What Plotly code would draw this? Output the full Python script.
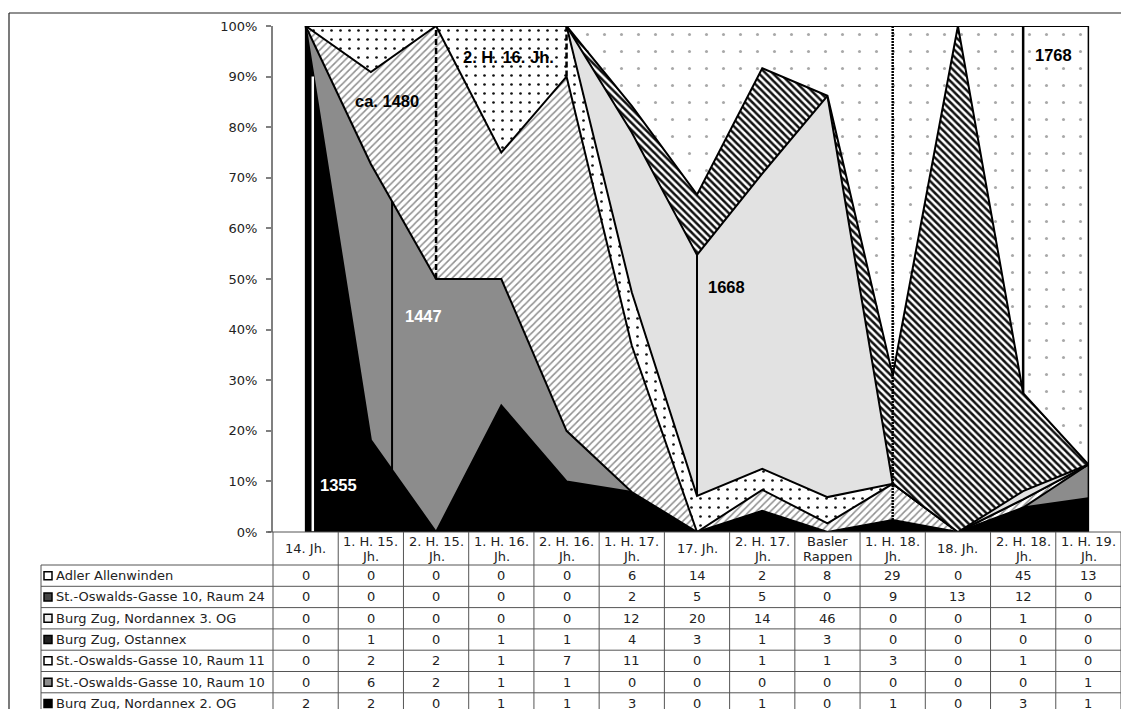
import plotly.graph_objects as go

# ---------------- data ----------------
categories = ["14. Jh.", "1. H. 15. Jh.", "2. H. 15. Jh.", "1. H. 16. Jh.", "2. H. 16. Jh.",
              "1. H. 17. Jh.", "17. Jh.", "2. H. 17. Jh.", "Basler Rappen", "1. H. 18. Jh.",
              "18. Jh.", "2. H. 18. Jh.", "1. H. 19. Jh."]
category_lines = [["14. Jh."], ["1. H. 15.", "Jh."], ["2. H. 15.", "Jh."], ["1. H. 16.", "Jh."],
                  ["2. H. 16.", "Jh."], ["1. H. 17.", "Jh."], ["17. Jh."], ["2. H. 17.", "Jh."],
                  ["Basler", "Rappen"], ["1. H. 18.", "Jh."], ["18. Jh."], ["2. H. 18.", "Jh."],
                  ["1. H. 19.", "Jh."]]

adler_allenwinden = [0, 0, 0, 0, 0, 6, 14, 2, 8, 29, 0, 45, 13]
oswald_raum24     = [0, 0, 0, 0, 0, 2, 5, 5, 0, 9, 13, 12, 0]
nordannex_3og     = [0, 0, 0, 0, 0, 12, 20, 14, 46, 0, 0, 1, 0]
ostannex          = [0, 1, 0, 1, 1, 4, 3, 1, 3, 0, 0, 0, 0]
oswald_raum11     = [0, 2, 2, 1, 7, 11, 0, 1, 1, 3, 0, 1, 0]
oswald_raum10     = [0, 6, 2, 1, 1, 0, 0, 0, 0, 0, 0, 0, 1]
nordannex_2og     = [2, 2, 0, 1, 1, 3, 0, 1, 0, 1, 0, 3, 1]

series_names = ["Adler Allenwinden", "St.-Oswalds-Gasse 10, Raum 24", "Burg Zug, Nordannex 3. OG",
                "Burg Zug, Ostannex", "St.-Oswalds-Gasse 10, Raum 11", "St.-Oswalds-Gasse 10, Raum 10",
                "Burg Zug, Nordannex 2. OG"]
series_values = [adler_allenwinden, oswald_raum24, nordannex_3og, ostannex,
                 oswald_raum11, oswald_raum10, nordannex_2og]

# date markers drawn as labels in the chart
marker_labels = ["1355", "1447", "ca. 1480", "2. H. 16. Jh.", "1668", "", "1768"]

# ---------------- layout geometry ----------------
W, H = 1121, 709
L, R, T, B = 273, 0, 26, 177
PW, PH = W - L - R, H - T - B


def px(xp):
    return (xp - L) / PW


def py(yp):
    return (H - B - yp) / PH


n = len(categories)
xs = list(range(n))
colw = PW / n

# stacking bottom -> top
stack_order = list(reversed(range(len(series_names))))
styles = {
    "Burg Zug, Nordannex 2. OG": dict(fillcolor="black"),
    "St.-Oswalds-Gasse 10, Raum 10": dict(fillcolor="#8c8c8c"),
    "St.-Oswalds-Gasse 10, Raum 11": dict(fillcolor="white",
                                           fillpattern=dict(shape="/", bgcolor="white", fgcolor="#8f8f8f",
                                                            size=5, solidity=0.3, fillmode="replace")),
    "Burg Zug, Ostannex": dict(fillcolor="white",
                                fillpattern=dict(shape=".", bgcolor="white", fgcolor="#111111",
                                                 size=9, solidity=0.07, fillmode="replace")),
    "Burg Zug, Nordannex 3. OG": dict(fillcolor="#e2e2e2"),
    "St.-Oswalds-Gasse 10, Raum 24": dict(fillcolor="white",
                                           fillpattern=dict(shape="\\", bgcolor="white", fgcolor="#111111",
                                                            size=5, solidity=0.5, fillmode="replace")),
    "Adler Allenwinden": dict(fillcolor="white",
                               fillpattern=dict(shape=".", bgcolor="white", fgcolor="#a8a8a8",
                                                size=17, solidity=0.025, fillmode="replace")),
}

fig = go.Figure()
for k, si in enumerate(stack_order):
    name = series_names[si]
    fig.add_trace(go.Scatter(
        x=xs, y=series_values[si], name=name, stackgroup="one",
        groupnorm="percent" if k == 0 else None,
        mode="lines", line=dict(color="black", width=2, shape="linear"),
        hoverinfo="skip", showlegend=False, **styles[name]))

# cumulative percentage of the lowest `level` stacked series at (fractional) category x
totals = [sum(s[i] for s in series_values) for i in range(n)]


def level_pct_at(i, level):
    return 100.0 * sum(series_values[si][i] for si in stack_order[:level]) / totals[i]


def level_pct(x, level):
    i0 = int(x)
    if i0 >= n - 1:
        return level_pct_at(n - 1, level)
    f = x - i0
    return (1 - f) * level_pct_at(i0, level) + f * level_pct_at(i0 + 1, level)


shapes = []
# date markers
markers = [
    dict(x=0.11, y0=0, y1=90, color="white", dash="solid", width=2.5),
    dict(x=1.325, lv=(1, 2), color="black", dash="solid", width=2),
    dict(x=2, lv=(2, 7), color="black", dash="6px,3px", width=2.5),
    dict(x=4, lv=(3, 7), color="black", dash="6px,3px", width=2.5),
    dict(x=6, lv=(4, 5), color="black", dash="solid", width=2),
    dict(x=9, lv=(0, 7), color="black", dash="2px,1px", width=2.5),
    dict(x=11, lv=(6, 7), color="black", dash="solid", width=2.5),
]
for m in markers:
    if "lv" in m:
        y0, y1 = level_pct(m["x"], m["lv"][0]), level_pct(m["x"], m["lv"][1])
    else:
        y0, y1 = m["y0"], m["y1"]
    shapes.append(dict(type="line", xref="x", yref="y", x0=m["x"], x1=m["x"], y0=y0, y1=y1,
                       line=dict(color=m["color"], width=m["width"], dash=m["dash"]), layer="above"))

# plot area frame
shapes.append(dict(type="rect", xref="x", yref="y", x0=0, x1=n - 1, y0=0, y1=100,
                   line=dict(color="black", width=1.5), layer="above"))

# outer chart border (top and left)
shapes.append(dict(type="line", xref="paper", yref="paper", x0=px(9), x1=px(W + 5), y0=py(13), y1=py(13),
                   line=dict(color="#222", width=1.2)))
shapes.append(dict(type="line", xref="paper", yref="paper", x0=px(9), x1=px(9), y0=py(13), y1=py(H + 5),
                   line=dict(color="#222", width=1.2)))

# ---------------- data table ----------------
grid = dict(color="#555", width=1)
header_top, header_bot = 532, 565
row_h = 21.3
nrows = len(series_names)
table_left = 41
# horizontal lines
shapes.append(dict(type="line", xref="paper", yref="paper", x0=px(268), x1=px(W), y0=py(header_top),
                   y1=py(header_top), line=grid))
for r in range(nrows + 1):
    yy = header_bot + r * row_h
    shapes.append(dict(type="line", xref="paper", yref="paper", x0=px(table_left), x1=px(W),
                       y0=py(yy), y1=py(yy), line=grid))
# vertical lines
shapes.append(dict(type="line", xref="paper", yref="paper", x0=px(table_left), x1=px(table_left),
                   y0=py(header_bot), y1=py(H + 5), line=grid))
for c in range(n + 1):
    xx = L + c * colw
    shapes.append(dict(type="line", xref="paper", yref="paper", x0=px(xx), x1=px(xx),
                       y0=py(header_top), y1=py(H + 5), line=grid))

annotations = []
tfont = dict(family="DejaVu Sans", size=13, color="#222")
for i, lines in enumerate(category_lines):
    if len(lines) == 1:
        annotations.append(dict(x=i, xref="x", y=py(548.5), yref="paper", text=lines[0], showarrow=False,
                                font=tfont, xanchor="center", yanchor="middle"))
    else:
        for j, ln in enumerate(lines):
            annotations.append(dict(x=i, xref="x", y=py(541.5 + 15 * j), yref="paper", text=ln,
                                    showarrow=False, font=tfont, xanchor="center", yanchor="middle"))

key_fill = ["white", "#444", "#eeeeee", "#222", "white", "#8c8c8c", "black"]
for r, name in enumerate(series_names):
    yc = header_bot + (r + 0.5) * row_h
    annotations.append(dict(x=px(54), xref="paper", y=py(yc), yref="paper", text=name, showarrow=False,
                            font=tfont, xanchor="left", yanchor="middle"))
    shapes.append(dict(type="rect", xref="paper", yref="paper", x0=px(44), x1=px(52), y0=py(yc - 4),
                       y1=py(yc + 4), fillcolor=key_fill[r], line=dict(color="black", width=1.5)))
    for i, v in enumerate(series_values[r]):
        annotations.append(dict(x=i, xref="x", y=py(yc), yref="paper", text=str(v), showarrow=False,
                                font=tfont, xanchor="center", yanchor="middle"))

# date labels inside the plot
label_pos = [(0.51, 9.2, "white"), (1.8, 42.7, "white"), (1.25, 85.2, "black"), (3.11, 93.9, "black"),
             (6.45, 48.4, "black"), None, (11.46, 94.3, "black")]
for lab, pos in zip(marker_labels, label_pos):
    if pos is None:
        continue
    annotations.append(dict(x=pos[0], y=pos[1], xref="x", yref="y", text=f"<b>{lab}</b>", showarrow=False,
                            font=dict(family="Liberation Sans", size=16.5, color=pos[2]),
                            xanchor="center", yanchor="middle"))

fig.update_layout(
    width=W, height=H,
    margin=dict(l=L, r=R, t=T, b=B, pad=0),
    paper_bgcolor="white", plot_bgcolor="white",
    xaxis=dict(range=[-0.5, n - 0.5], showticklabels=False, showgrid=False, zeroline=False,
               showline=False, ticks="", fixedrange=True),
    yaxis=dict(range=[0, 100], tickvals=list(range(0, 101, 10)),
               ticktext=[f"{v}%" for v in range(0, 101, 10)],
               ticks="outside", ticklen=5, tickwidth=1.5, tickcolor="#808080",
               showline=True, linecolor="#808080", linewidth=2, showgrid=False, zeroline=False,
               tickfont=dict(family="DejaVu Sans", size=13, color="#222"), ticklabelstandoff=6,
               fixedrange=True),
    shapes=shapes, annotations=annotations,
)

fig.write_html("out.html", config={"displayModeBar": False},
               post_script="document.body.style.margin='0';document.body.style.overflow='hidden';")
